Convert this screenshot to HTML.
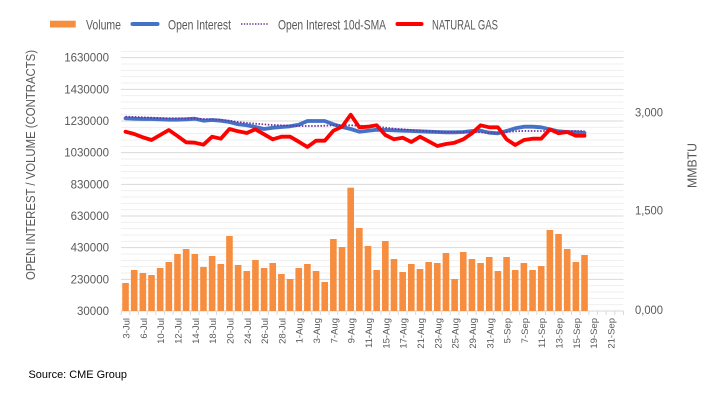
<!DOCTYPE html>
<html><head><meta charset="utf-8"><style>
html,body{margin:0;padding:0;background:#fff;}
svg{display:block;}
text{font-family:"Liberation Sans",Arial,sans-serif;fill:#595959;}
</style></head><body>
<svg width="718" height="404" viewBox="0 0 718 404" xmlns="http://www.w3.org/2000/svg">
<rect width="718" height="404" fill="#fff"/>
<!-- legend -->
<rect x="50" y="20.7" width="25.7" height="6.8" fill="#F68D3F"/>
<text x="86" y="29.3" font-size="14" textLength="35" lengthAdjust="spacingAndGlyphs">Volume</text>
<line x1="132.5" y1="24" x2="157.5" y2="24" stroke="#4472C4" stroke-width="4" stroke-linecap="round"/>
<text x="168" y="29.3" font-size="14" textLength="63" lengthAdjust="spacingAndGlyphs">Open Interest</text>
<line x1="241" y1="24" x2="268" y2="24" stroke="#7030A0" stroke-width="1.6" stroke-dasharray="1.4 1.4"/>
<text x="278" y="29.3" font-size="14" textLength="108" lengthAdjust="spacingAndGlyphs">Open Interest 10d-SMA</text>
<line x1="397.5" y1="24" x2="421.5" y2="24" stroke="#FF0000" stroke-width="4" stroke-linecap="round"/>
<text x="432" y="29.3" font-size="14" textLength="66" lengthAdjust="spacingAndGlyphs">NATURAL GAS</text>

<!-- minor gridlines -->
<g stroke="#efefef" stroke-width="1">
<line x1="121" x2="623.5" y1="304.67" y2="304.67"/><line x1="121" x2="623.5" y1="298.33" y2="298.33"/><line x1="121" x2="623.5" y1="292" y2="292"/><line x1="121" x2="623.5" y1="285.67" y2="285.67"/>
<line x1="121" x2="623.5" y1="273" y2="273"/><line x1="121" x2="623.5" y1="266.67" y2="266.67"/><line x1="121" x2="623.5" y1="260.33" y2="260.33"/><line x1="121" x2="623.5" y1="254" y2="254"/>
<line x1="121" x2="623.5" y1="241.33" y2="241.33"/><line x1="121" x2="623.5" y1="235" y2="235"/><line x1="121" x2="623.5" y1="228.67" y2="228.67"/><line x1="121" x2="623.5" y1="222.33" y2="222.33"/>
<line x1="121" x2="623.5" y1="209.67" y2="209.67"/><line x1="121" x2="623.5" y1="203.33" y2="203.33"/><line x1="121" x2="623.5" y1="197" y2="197"/><line x1="121" x2="623.5" y1="190.67" y2="190.67"/>
<line x1="121" x2="623.5" y1="178" y2="178"/><line x1="121" x2="623.5" y1="171.67" y2="171.67"/><line x1="121" x2="623.5" y1="165.33" y2="165.33"/><line x1="121" x2="623.5" y1="159" y2="159"/>
<line x1="121" x2="623.5" y1="146.33" y2="146.33"/><line x1="121" x2="623.5" y1="140" y2="140"/><line x1="121" x2="623.5" y1="133.67" y2="133.67"/><line x1="121" x2="623.5" y1="127.33" y2="127.33"/>
<line x1="121" x2="623.5" y1="114.67" y2="114.67"/><line x1="121" x2="623.5" y1="108.33" y2="108.33"/><line x1="121" x2="623.5" y1="102" y2="102"/><line x1="121" x2="623.5" y1="95.67" y2="95.67"/>
<line x1="121" x2="623.5" y1="83" y2="83"/><line x1="121" x2="623.5" y1="76.67" y2="76.67"/><line x1="121" x2="623.5" y1="70.33" y2="70.33"/><line x1="121" x2="623.5" y1="64" y2="64"/>
<line x1="121" x2="623.5" y1="51.33" y2="51.33"/>
</g>
<!-- major gridlines -->
<g stroke="#d9d9d9" stroke-width="1">
<line x1="121" x2="623.5" y1="279.33" y2="279.33"/><line x1="121" x2="623.5" y1="247.67" y2="247.67"/><line x1="121" x2="623.5" y1="216" y2="216"/><line x1="121" x2="623.5" y1="184.33" y2="184.33"/><line x1="121" x2="623.5" y1="152.67" y2="152.67"/><line x1="121" x2="623.5" y1="121" y2="121"/><line x1="121" x2="623.5" y1="89.33" y2="89.33"/><line x1="121" x2="623.5" y1="57.67" y2="57.67"/>
<line x1="121" x2="623.5" y1="311" y2="311"/>
</g>
<!-- x ticks -->
<path stroke="#d9d9d9" stroke-width="1" fill="none" d="M121.2 311v4M129.86 311v4M138.52 311v4M147.18 311v4M155.84 311v4M164.5 311v4M173.16 311v4M181.82 311v4M190.48 311v4M199.14 311v4M207.8 311v4M216.46 311v4M225.12 311v4M233.78 311v4M242.44 311v4M251.1 311v4M259.76 311v4M268.42 311v4M277.08 311v4M285.74 311v4M294.4 311v4M303.06 311v4M311.72 311v4M320.38 311v4M329.04 311v4M337.7 311v4M346.36 311v4M355.02 311v4M363.68 311v4M372.34 311v4M381 311v4M389.66 311v4M398.32 311v4M406.98 311v4M415.64 311v4M424.3 311v4M432.96 311v4M441.62 311v4M450.28 311v4M458.94 311v4M467.6 311v4M476.26 311v4M484.92 311v4M493.58 311v4M502.24 311v4M510.9 311v4M519.56 311v4M528.22 311v4M536.88 311v4M545.54 311v4M554.2 311v4M562.86 311v4M571.52 311v4M580.18 311v4M588.84 311v4M597.5 311v4M606.16 311v4M614.82 311v4M623.48 311v4"/>

<!-- bars -->
<g fill="#F68D3F">
<rect x="122.23" y="283" width="6.6" height="28"/>
<rect x="130.89" y="270" width="6.6" height="41"/>
<rect x="139.55" y="273" width="6.6" height="38"/>
<rect x="148.21" y="275" width="6.6" height="36"/>
<rect x="156.87" y="268" width="6.6" height="43"/>
<rect x="165.53" y="262" width="6.6" height="49"/>
<rect x="174.19" y="254" width="6.6" height="57"/>
<rect x="182.85" y="249" width="6.6" height="62"/>
<rect x="191.51" y="254" width="6.6" height="57"/>
<rect x="200.17" y="267" width="6.6" height="44"/>
<rect x="208.83" y="256" width="6.6" height="55"/>
<rect x="217.49" y="264" width="6.6" height="47"/>
<rect x="226.15" y="236" width="6.6" height="75"/>
<rect x="234.81" y="265" width="6.6" height="46"/>
<rect x="243.47" y="271" width="6.6" height="40"/>
<rect x="252.13" y="260" width="6.6" height="51"/>
<rect x="260.79" y="268" width="6.6" height="43"/>
<rect x="269.45" y="263" width="6.6" height="48"/>
<rect x="278.11" y="274" width="6.6" height="37"/>
<rect x="286.77" y="279" width="6.6" height="32"/>
<rect x="295.43" y="268" width="6.6" height="43"/>
<rect x="304.09" y="264" width="6.6" height="47"/>
<rect x="312.75" y="271" width="6.6" height="40"/>
<rect x="321.41" y="282" width="6.6" height="29"/>
<rect x="330.07" y="239" width="6.6" height="72"/>
<rect x="338.73" y="247" width="6.6" height="64"/>
<rect x="347.39" y="187.7" width="6.6" height="123.3"/>
<rect x="356.05" y="228" width="6.6" height="83"/>
<rect x="364.71" y="246" width="6.6" height="65"/>
<rect x="373.37" y="270" width="6.6" height="41"/>
<rect x="382.03" y="241" width="6.6" height="70"/>
<rect x="390.69" y="259" width="6.6" height="52"/>
<rect x="399.35" y="272" width="6.6" height="39"/>
<rect x="408.01" y="264" width="6.6" height="47"/>
<rect x="416.67" y="269" width="6.6" height="42"/>
<rect x="425.33" y="262" width="6.6" height="49"/>
<rect x="433.99" y="263" width="6.6" height="48"/>
<rect x="442.65" y="253" width="6.6" height="58"/>
<rect x="451.31" y="279" width="6.6" height="32"/>
<rect x="459.97" y="252" width="6.6" height="59"/>
<rect x="468.63" y="259" width="6.6" height="52"/>
<rect x="477.29" y="263" width="6.6" height="48"/>
<rect x="485.95" y="257" width="6.6" height="54"/>
<rect x="494.61" y="271" width="6.6" height="40"/>
<rect x="503.27" y="257" width="6.6" height="54"/>
<rect x="511.93" y="270" width="6.6" height="41"/>
<rect x="520.59" y="263" width="6.6" height="48"/>
<rect x="529.25" y="270" width="6.6" height="41"/>
<rect x="537.91" y="266" width="6.6" height="45"/>
<rect x="546.57" y="230" width="6.6" height="81"/>
<rect x="555.23" y="234" width="6.6" height="77"/>
<rect x="563.89" y="249" width="6.6" height="62"/>
<rect x="572.55" y="262" width="6.6" height="49"/>
<rect x="581.21" y="255" width="6.6" height="56"/>
</g>

<!-- Open Interest -->
<polyline fill="none" stroke="#4472C4" stroke-width="3.8" stroke-linejoin="round" stroke-linecap="round" points="125.53,118.3 134.19,118.7 142.85,119 151.51,119 160.17,119.3 168.83,119.7 177.49,119.7 186.15,119.3 194.81,118.7 203.47,120.7 212.13,120 220.79,120.7 229.45,122 238.11,124.3 246.77,125.3 255.43,127 264.09,129 272.75,127.7 281.41,127 290.07,126.3 298.73,124.7 307.39,121 316.05,121 324.71,121 333.37,124.3 342.03,127 350.69,129 359.35,131.7 368.01,130.7 376.67,129.7 385.33,130 393.99,130.3 402.65,130.7 411.31,131 419.97,131.3 428.63,131.7 437.29,132 445.95,132.3 454.61,132.3 463.27,132 471.93,131 480.59,130.7 489.25,132.7 497.91,133.3 506.57,131 515.23,128.3 523.89,126.7 532.55,126.7 541.21,127.3 549.87,129.3 558.53,131.3 567.19,132 575.85,132.3 584.51,133"/>

<!-- 10d SMA -->
<polyline fill="none" stroke="#7030A0" stroke-width="1.8" stroke-dasharray="1.5 1.6" points="125.53,116.7 134.19,117 142.85,117.3 151.51,117.7 160.17,118 168.83,118.3 177.49,118.3 186.15,118.3 194.81,118.5 203.47,119 212.13,119.3 220.79,119.7 229.45,120.7 238.11,122 246.77,123 255.43,123.7 264.09,124.3 272.75,125 281.41,125.3 290.07,125.7 298.73,126 307.39,126 316.05,126 324.71,125.7 333.37,125.3 342.03,125.3 350.69,125.3 359.35,125.7 368.01,126 376.67,126.7 385.33,127.7 393.99,128.7 402.65,129.3 411.31,130 419.97,130.7 428.63,131.3 437.29,131.7 445.95,132 454.61,132 463.27,132 471.93,132 480.59,132.3 489.25,133 497.91,133 506.57,132 515.23,131.3 523.89,131 532.55,131 541.21,131 549.87,131 558.53,131 567.19,131 575.85,131 584.51,131"/>

<!-- Natural gas -->
<polyline fill="none" stroke="#FF0000" stroke-width="3.8" stroke-linejoin="round" stroke-linecap="round" points="125.53,131.7 134.19,134 142.85,137.3 151.51,140 160.17,135 168.83,130 177.49,136 186.15,142.3 194.81,142.7 203.47,144.7 212.13,136.7 220.79,138.7 229.45,129 238.11,131.3 246.77,133 255.43,129.3 264.09,134.3 272.75,139.3 281.41,136.7 290.07,136.7 298.73,141.7 307.39,147 316.05,140.7 324.71,140.7 333.37,130.7 342.03,126.7 350.69,114.7 359.35,127.3 368.01,126.7 376.67,125.3 385.33,135 393.99,139.3 402.65,137.7 411.31,142 419.97,136.7 428.63,141.3 437.29,146 445.95,144 454.61,142.7 463.27,139.3 471.93,133.3 480.59,125.3 489.25,127.3 497.91,127.3 506.57,139.3 515.23,145 523.89,140 532.55,138.7 541.21,138.7 549.87,129.3 558.53,133.3 567.19,132 575.85,135.7 584.51,135.7"/>

<!-- left axis labels -->
<g font-size="11.5" text-anchor="end">
<text x="109" y="61.7">1630000</text>
<text x="109" y="93.3">1430000</text>
<text x="109" y="125">1230000</text>
<text x="109" y="156.7">1030000</text>
<text x="109" y="188.3">830000</text>
<text x="109" y="220">630000</text>
<text x="109" y="251.7">430000</text>
<text x="109" y="283.3">230000</text>
<text x="109" y="315">30000</text>
</g>
<!-- right axis labels -->
<g font-size="11.5">
<text x="635" y="116.3" textLength="28" lengthAdjust="spacingAndGlyphs">3,000</text>
<text x="635" y="214.7" textLength="28" lengthAdjust="spacingAndGlyphs">1,500</text>
<text x="635" y="314" textLength="28" lengthAdjust="spacingAndGlyphs">0,000</text>
</g>
<!-- axis titles -->
<text transform="translate(35,165) rotate(-90)" font-size="12.5" text-anchor="middle" textLength="230" lengthAdjust="spacingAndGlyphs">OPEN INTEREST / VOLUME (CONTRACTS)</text>
<text transform="translate(696.5,165.5) rotate(-90)" font-size="12.5" text-anchor="middle" textLength="45" lengthAdjust="spacingAndGlyphs">MMBTU</text>

<!-- x labels -->
<g font-size="9.5" text-anchor="end">
<text transform="translate(129.53,318) rotate(-90)">3-Jul</text>
<text transform="translate(146.85,318) rotate(-90)">6-Jul</text>
<text transform="translate(164.17,318) rotate(-90)">10-Jul</text>
<text transform="translate(181.49,318) rotate(-90)">12-Jul</text>
<text transform="translate(198.81,318) rotate(-90)">14-Jul</text>
<text transform="translate(216.13,318) rotate(-90)">18-Jul</text>
<text transform="translate(233.45,318) rotate(-90)">20-Jul</text>
<text transform="translate(250.77,318) rotate(-90)">24-Jul</text>
<text transform="translate(268.09,318) rotate(-90)">26-Jul</text>
<text transform="translate(285.41,318) rotate(-90)">28-Jul</text>
<text transform="translate(302.73,318) rotate(-90)">1-Aug</text>
<text transform="translate(320.05,318) rotate(-90)">3-Aug</text>
<text transform="translate(337.37,318) rotate(-90)">7-Aug</text>
<text transform="translate(354.69,318) rotate(-90)">9-Aug</text>
<text transform="translate(372.01,318) rotate(-90)">11-Aug</text>
<text transform="translate(389.33,318) rotate(-90)">15-Aug</text>
<text transform="translate(406.65,318) rotate(-90)">17-Aug</text>
<text transform="translate(423.97,318) rotate(-90)">21-Aug</text>
<text transform="translate(441.29,318) rotate(-90)">23-Aug</text>
<text transform="translate(458.61,318) rotate(-90)">25-Aug</text>
<text transform="translate(475.93,318) rotate(-90)">29-Aug</text>
<text transform="translate(493.25,318) rotate(-90)">31-Aug</text>
<text transform="translate(510.57,318) rotate(-90)">5-Sep</text>
<text transform="translate(527.89,318) rotate(-90)">7-Sep</text>
<text transform="translate(545.21,318) rotate(-90)">11-Sep</text>
<text transform="translate(562.53,318) rotate(-90)">13-Sep</text>
<text transform="translate(579.85,318) rotate(-90)">15-Sep</text>
<text transform="translate(597.17,318) rotate(-90)">19-Sep</text>
<text transform="translate(614.49,318) rotate(-90)">21-Sep</text>
</g>

<text x="28.5" y="378" font-size="11" style="fill:#000" textLength="98.5" lengthAdjust="spacingAndGlyphs">Source: CME Group</text>
</svg>
</body></html>
